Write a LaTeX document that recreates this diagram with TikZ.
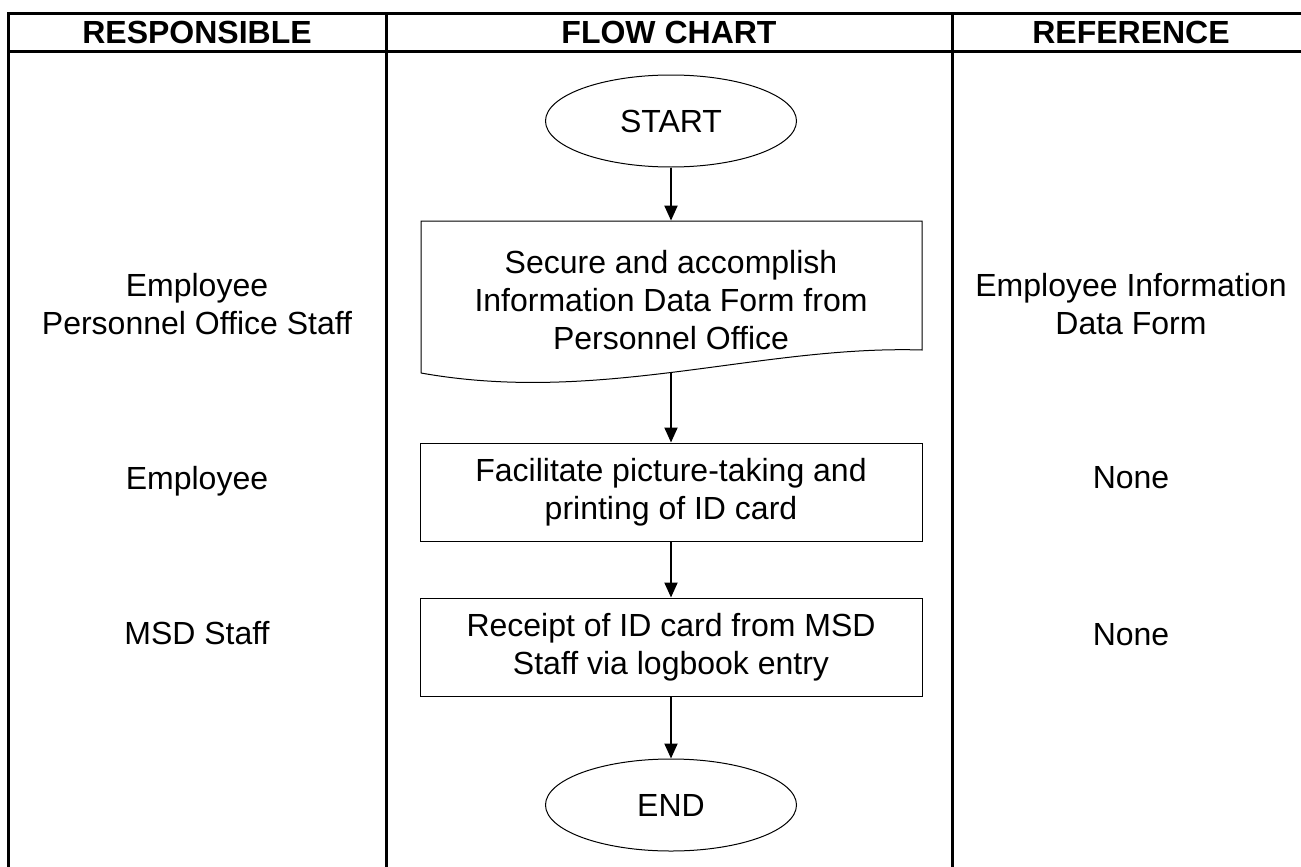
\documentclass[tikz,border=0pt]{standalone}
\usepackage{fontspec}
\setmainfont{Liberation Sans}
\usetikzlibrary{shapes.geometric,arrows.meta}
\begin{document}
\begin{tikzpicture}[x=0.5pt, y=-0.5pt,
        every node/.style={font=\fontsize{16}{19}\selectfont, align=center},
        head/.style={font=\fontsize{16}{19}\selectfont\bfseries},
        terminal/.style={ellipse, draw, line width=0.5pt, minimum width=125.5pt, minimum height=46pt, inner sep=0pt},
        process/.style={rectangle, draw, line width=0.5pt, minimum width=251pt, minimum height=49pt, inner sep=0pt},
        docbox/.style={rectangle, minimum width=251pt, minimum height=79pt, inner sep=0pt},
        flow/.style={-{Triangle[width=6.5pt,length=7.5pt]}, line width=1pt},
        grid/.style={line width=1.5pt}]

        \useasboundingbox (0,0) rectangle (1301,867);

        % table
        \draw[grid] (1301,13) -- (8,13) -- (8,867);
        \draw[grid] (8,51) -- (1301,51);
        \draw[grid] (386,13) -- (386,867);
        \draw[grid] (952,13) -- (952,867);

        \node (h-resp) at (197, 32) [head] {RESPONSIBLE};
        \node (h-flow) at (669, 32) [head] {FLOW CHART};
        \node (h-ref) at (1131, 32) [head] {REFERENCE};

        \node (who-1) at (197, 304) {Employee\\Personnel Office Staff};
        \node (who-2) at (197, 481) {Employee};
        \node (who-3) at (197, 633) {MSD Staff};

        \node (ref-1) at (1131, 304) {Employee Information\\Data Form};
        \node (ref-2) at (1131, 478) {None};
        \node (ref-3) at (1131, 635) {None};

        % flow chart
        \node (start) at (671, 121) [terminal] {START};
        \node (secure) at (671, 300) [docbox] {Secure and accomplish\\Information Data Form from\\Personnel Office};
        \draw[line width=0.5pt] (421,373) -- (421,221) -- (922,221) -- (922,350)
            .. controls (760,345) and (600,405) .. (421,373);
        \coordinate (secure-end) at (671, 372);
        \node (picture) at (671, 492) [process] {Facilitate picture-taking and\\printing of ID card};
        \node (receipt) at (671, 647) [process] {Receipt of ID card from MSD\\Staff via logbook entry};
        \node (end) at (671, 805) [terminal] {END};

        \draw[flow] (start) -- (secure);
        \draw[flow] (secure-end) -- (picture);
        \draw[flow] (picture) -- (receipt);
        \draw[flow] (receipt) -- (end);

    \end{tikzpicture}
\end{document}
